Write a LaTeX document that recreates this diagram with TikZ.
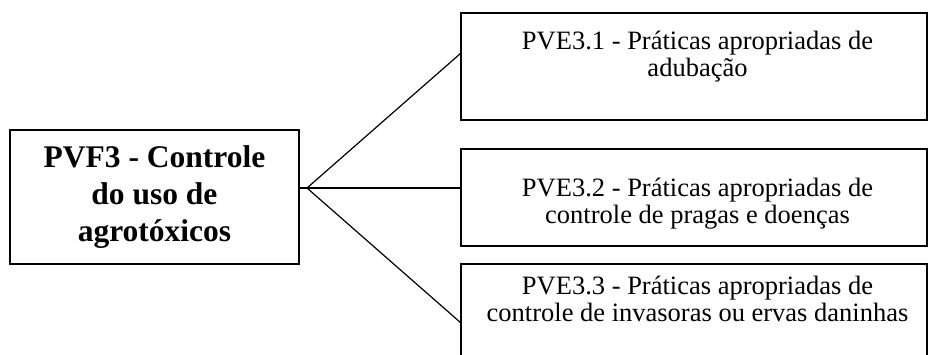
\documentclass[tikz,border=0pt]{standalone}
\usepackage{fontspec}
\setmainfont{Liberation Serif}
\usetikzlibrary{positioning,calc}
\tikzset{
  box/.style  ={draw, line width=1.6pt, inner sep=0pt, outer sep=0pt},
  goal/.style ={box, align=center, font=\fontsize{31.5}{37}\selectfont\bfseries,
                minimum width=289pt, minimum height=134pt},
  pve/.style  ={box, minimum width=466pt},
  txt/.style  ={align=center, anchor=base, inner sep=0pt,
                font=\fontsize{26.5}{27}\selectfont},
  ln/.style   ={line width=1.2pt},
}

\begin{document}
\begin{tikzpicture}[x=1pt, y=-1pt]
  \clip (0,0) rectangle (928,354);

  \node[goal] (pvf) at (154.5,197) {PVF3 - Controle\\ do uso de\\ agrotóxicos};

  % --- the three indicator boxes --------------------------------------
  \node[pve, minimum height=107pt] (pve1) at (694,66.5) {};
  \node[pve, minimum height=97pt]  (pve2) at (694,197.5) {};
  \node[pve, minimum height=130pt] (pve3) at (694,329) {};

  % anchor=base sits on the last line
  \node[txt] (t1) at (697.5,76.5) {PVE3.1 - Práticas apropriadas de\\ adubação};
  \node[txt] (t2) at (697.5,223)  {PVE3.2 - Práticas apropriadas de\\ controle de pragas e doenças};
  \node[txt] (t3) at (697.5,321)  {PVE3.3 - Práticas apropriadas de\\ controle de invasoras ou ervas daninhas};

  % --- connectors -----------------------------------------------------
  \coordinate (hub) at (307,188);
  \draw[ln](pvf.east |- hub)--(hub);
  \draw[ln](hub)--($(pve1.north west)+(0,40)$);
  \draw[ln](hub)--($(pve2.north west)+(0,39)$);
  \draw[ln](hub)--($(pve3.north west)+(0,59)$);
\end{tikzpicture}
\end{document}
